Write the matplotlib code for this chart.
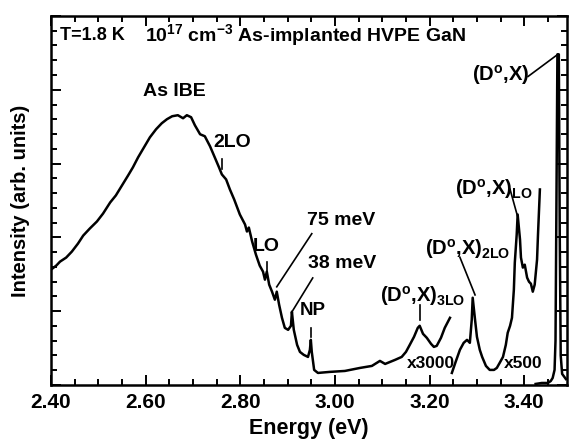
import matplotlib
matplotlib.use("Agg")
import matplotlib.pyplot as plt
from matplotlib.ticker import MultipleLocator, FormatStrFormatter

plt.rcParams['font.family'] = ['Liberation Sans', 'DejaVu Sans']
plt.rcParams['font.weight'] = 'bold'
plt.rcParams['axes.labelweight'] = 'bold'
plt.rcParams['mathtext.fontset'] = 'custom'
plt.rcParams['mathtext.rm'] = 'Liberation Sans:bold'
plt.rcParams['mathtext.it'] = 'Liberation Sans:bold'
plt.rcParams['mathtext.bf'] = 'Liberation Sans:bold'
plt.rcParams['mathtext.default'] = 'rm'

# x3000 part of the spectrum (As IBE band, phonon replicas, NP line, (D0,X)3LO)
energy_x3000 = [2.400, 2.411, 2.419, 2.432, 2.444, 2.457, 2.468, 2.482, 2.497, 2.510,
                2.525, 2.537, 2.550, 2.563, 2.573, 2.584, 2.594, 2.609, 2.622, 2.634,
                2.645, 2.656, 2.668, 2.679, 2.687, 2.696, 2.704, 2.715, 2.725, 2.736,
                2.746, 2.755, 2.761, 2.770, 2.778, 2.787, 2.799, 2.810, 2.814, 2.818,
                2.825, 2.833, 2.841, 2.848, 2.852, 2.856, 2.861, 2.867, 2.873, 2.877,
                2.882, 2.888, 2.894, 2.901, 2.907, 2.909, 2.913, 2.920, 2.926, 2.934,
                2.943, 2.947, 2.949, 2.951, 2.956, 2.964, 2.989, 3.021, 3.053, 3.078,
                3.095, 3.106, 3.127, 3.141, 3.150, 3.158, 3.167, 3.175, 3.179, 3.186,
                3.194, 3.203, 3.209, 3.215, 3.224, 3.232, 3.243]
intensity_x3000 = [1.563, 1.617, 1.671, 1.726, 1.807, 1.916, 2.024, 2.120, 2.215, 2.323,
                   2.473, 2.568, 2.704, 2.840, 2.948, 3.084, 3.193, 3.356, 3.465, 3.546,
                   3.601, 3.641, 3.655, 3.614, 3.655, 3.628, 3.519, 3.397, 3.370, 3.234,
                   3.084, 2.948, 2.853, 2.785, 2.649, 2.514, 2.310, 2.174, 2.079, 2.133,
                   1.943, 1.766, 1.617, 1.535, 1.427, 1.535, 1.359, 1.264, 1.155, 1.264,
                   1.087, 0.910, 0.774, 0.747, 0.802, 0.992, 0.747, 0.543, 0.448, 0.408,
                   0.380, 0.476, 0.611, 0.448, 0.204, 0.163, 0.177, 0.190, 0.231, 0.258,
                   0.326, 0.285, 0.340, 0.380, 0.448, 0.543, 0.652, 0.774, 0.802, 0.693,
                   0.639, 0.557, 0.516, 0.530, 0.639, 0.774, 0.910]

# x500 part ((D0,X)2LO and (D0,X)LO)
energy_x500 = [3.247, 3.255, 3.264, 3.272, 3.279, 3.285, 3.289, 3.291, 3.296, 3.300,
               3.306, 3.311, 3.319, 3.327, 3.336, 3.342, 3.348, 3.355, 3.361, 3.365,
               3.370, 3.374, 3.378, 3.380, 3.384, 3.386, 3.391, 3.393, 3.397, 3.401,
               3.406, 3.410, 3.414, 3.418, 3.422, 3.427, 3.429, 3.433]
intensity_x500 = [0.163, 0.313, 0.476, 0.571, 0.611, 0.571, 0.883, 1.182, 0.883, 0.652,
                  0.476, 0.380, 0.258, 0.204, 0.204, 0.231, 0.299, 0.380, 0.543, 0.707,
                  0.802, 0.910, 1.291, 1.658, 2.038, 2.310, 1.970, 1.726, 1.590, 1.630,
                  1.454, 1.399, 1.372, 1.264, 1.359, 1.698, 2.038, 2.649]

# unscaled part ((D0,X) line)
energy_x1 = [3.424, 3.437, 3.450, 3.456, 3.460, 3.464, 3.466, 3.468, 3.470, 3.473,
             3.475, 3.477, 3.480, 3.488]
intensity_x1 = [0.014, 0.027, 0.027, 0.054, 0.095, 0.204, 0.600, 2.500, 4.480, 4.480,
                2.000, 0.400, 0.150, 0.080]

fig = plt.figure(figsize=(5.7, 4.43), dpi=100)
ax = fig.add_axes([0.0895, 0.131, 0.905, 0.833])

for e, i in [(energy_x3000, intensity_x3000), (energy_x500, intensity_x500),
             (energy_x1, intensity_x1)]:
    ax.plot(e, i, color='black', lw=1.8)

ax.set_xlim(2.40, 3.49)
ax.set_ylim(0, 5)
ax.xaxis.set_major_locator(MultipleLocator(0.2))
ax.xaxis.set_minor_locator(MultipleLocator(0.05))
ax.xaxis.set_major_formatter(FormatStrFormatter('%.2f'))
ax.yaxis.set_major_locator(MultipleLocator(1))
ax.yaxis.set_minor_locator(MultipleLocator(0.2))
ax.set_yticklabels([])
ax.tick_params(which='both', direction='in', top=True, right=True, width=1.4)
ax.tick_params(which='major', length=7, labelsize=15, pad=6)
ax.tick_params(which='minor', length=4)
for s in ax.spines.values():
    s.set_linewidth(1.8)

ax.set_xlabel('Energy (eV)', fontsize=15.5, labelpad=4)
ax.set_ylabel('Intensity (arb. units)', fontsize=14.5, labelpad=9)

# labels
ax.text(2.419, 4.74, 'T=1.8 K', fontsize=13, va='center')
ax.text(2.599, 4.74, r'10$^{17}$ cm$^{-3}$ As-implanted HVPE GaN', fontsize=14, va='center')
ax.text(2.660, 3.98, 'As IBE', fontsize=14, ha='center', va='center')
ax.text(2.784, 3.29, '2LO', fontsize=14, ha='center', va='center')
ax.text(2.854, 1.875, 'LO', fontsize=14, ha='center', va='center')
ax.text(2.941, 2.23, '75 meV', fontsize=14, va='center')
ax.text(2.943, 1.64, '38 meV', fontsize=14, va='center')
ax.text(2.953, 1.005, 'NP', fontsize=13.5, ha='center', va='center')
ax.text(3.095, 1.20, r'(D$^{o}$,X)$_{3LO}$', fontsize=14.5, va='center')
ax.text(3.190, 1.84, r'(D$^{o}$,X)$_{2LO}$', fontsize=14.5, va='center')
ax.text(3.253, 2.66, r'(D$^{o}$,X)$_{LO}$', fontsize=14.5, va='center')
ax.text(3.289, 4.20, r'(D$^{o}$,X)', fontsize=14.5, va='center')
ax.text(3.203, 0.285, 'x3000', fontsize=12.5, ha='center', va='center')
ax.text(3.397, 0.285, 'x500', fontsize=12.5, ha='center', va='center')

# pointer lines
pointers = [((2.761, 2.761), (3.06, 2.92)),
            ((2.856, 2.856), (1.67, 1.48)),
            ((2.951, 2.877), (2.05, 1.33)),
            ((2.953, 2.909), (1.45, 0.99)),
            ((2.949, 2.949), (0.77, 0.65)),
            ((3.179, 3.179), (1.09, 0.88)),
            ((3.264, 3.296), (1.73, 1.22)),
            ((3.370, 3.386), (2.65, 2.28)),
            ((3.408, 3.471), (4.18, 4.48))]
for px, py in pointers:
    ax.plot(px, py, color='black', lw=1.2)

fig.savefig('out.png', dpi=100)
